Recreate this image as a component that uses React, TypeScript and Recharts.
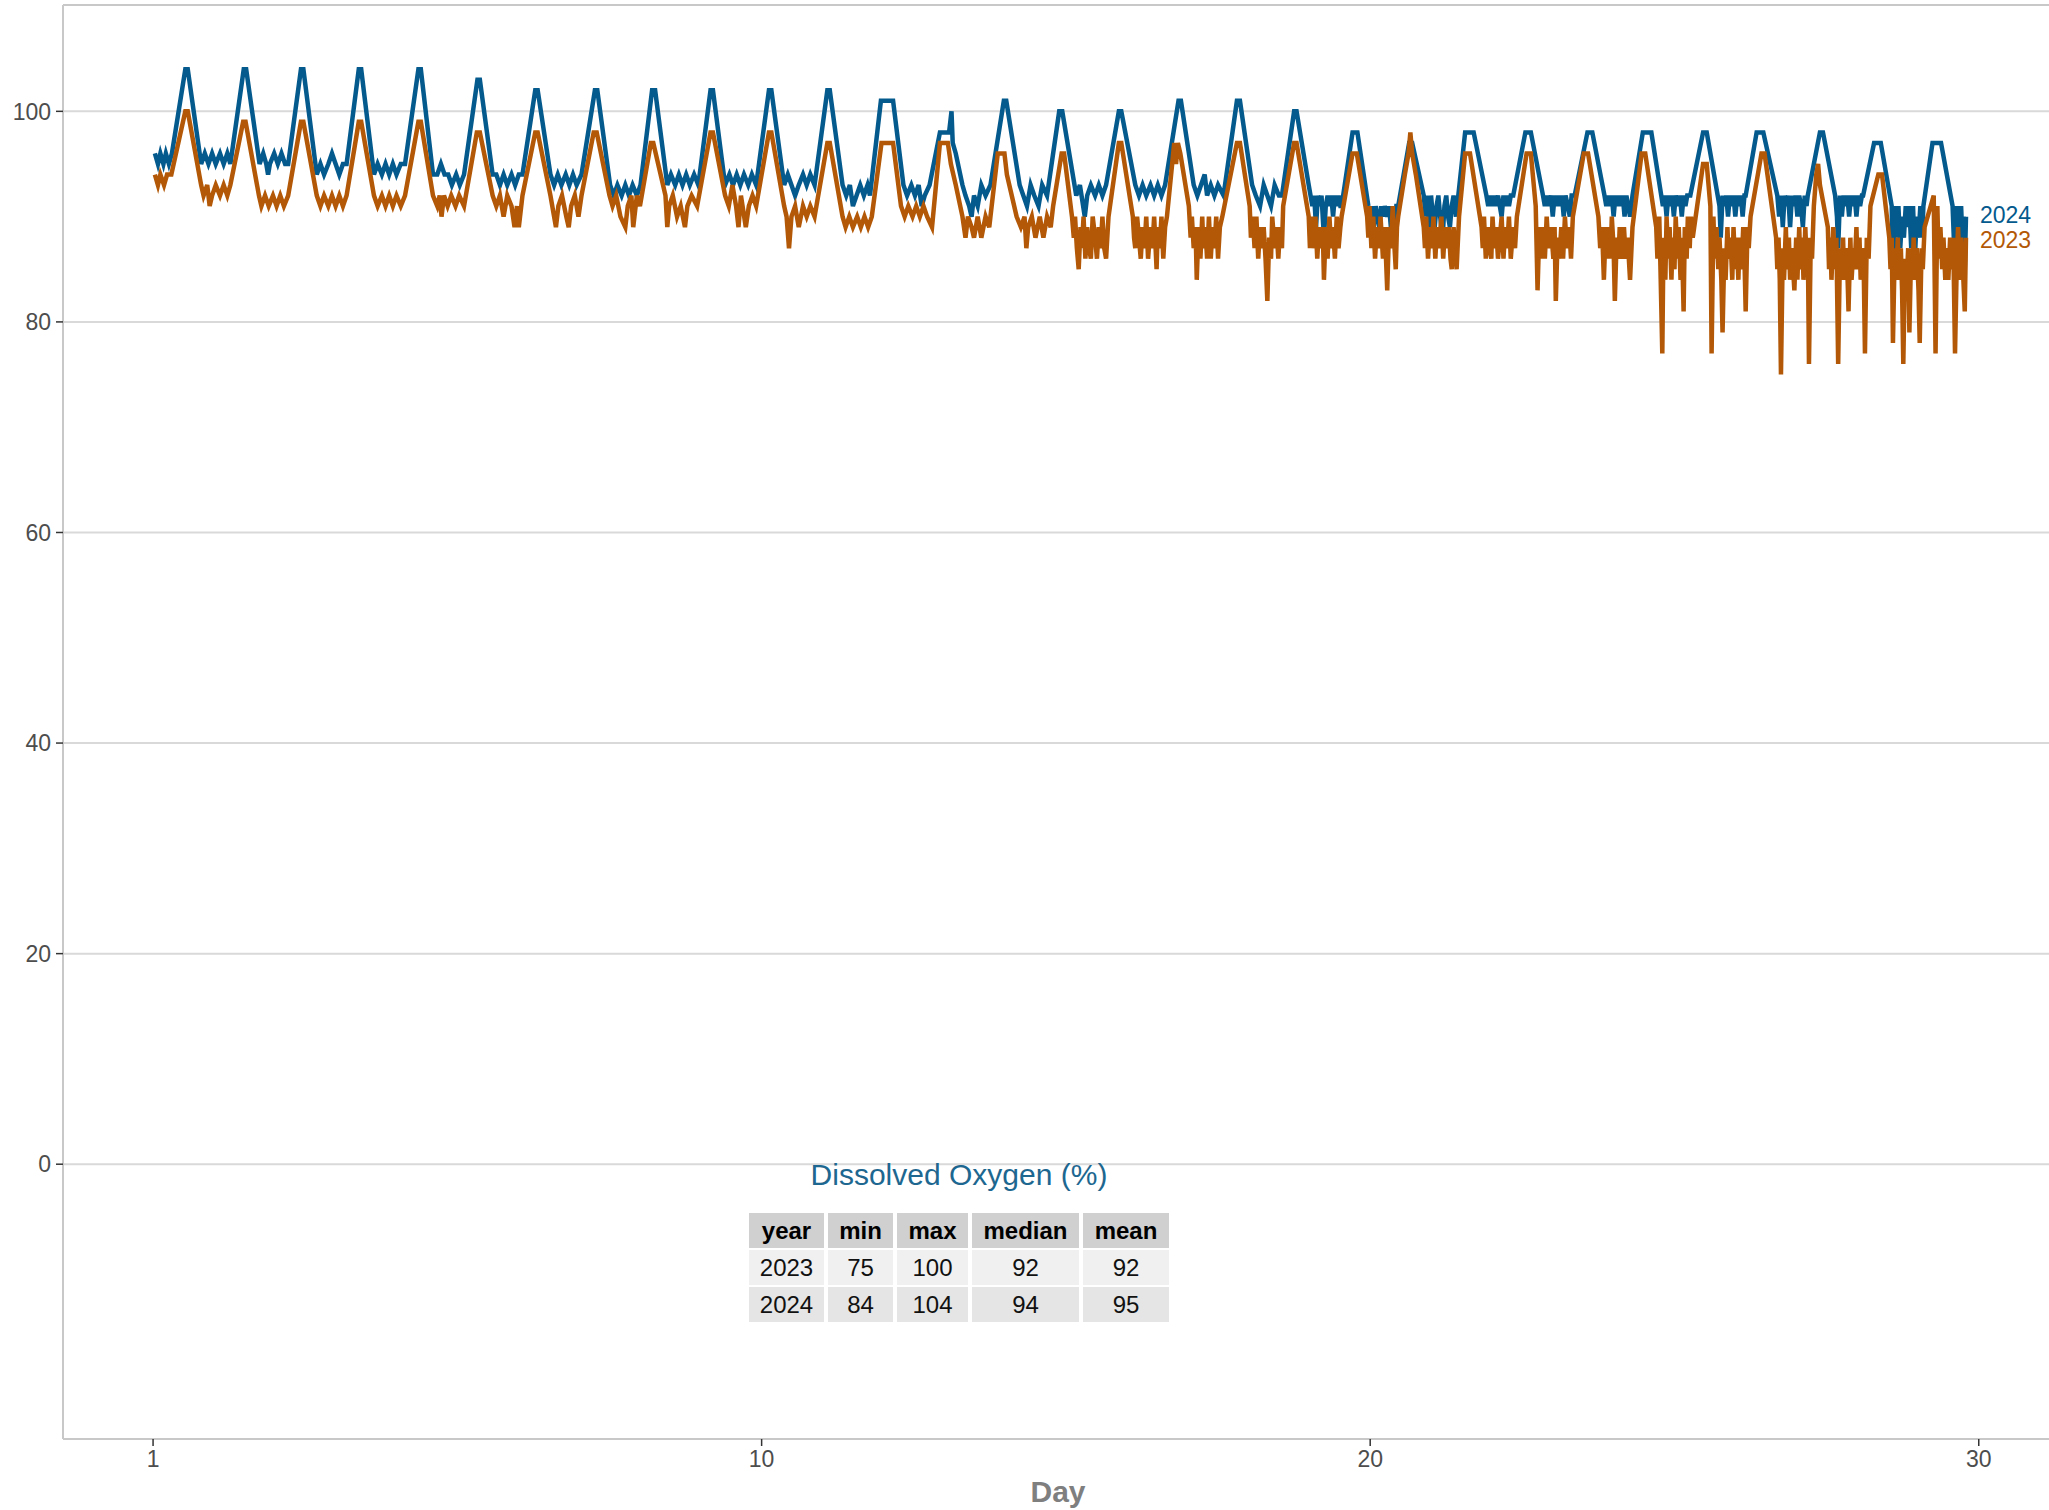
import { LineChart, Line, XAxis, YAxis, CartesianGrid, ReferenceLine } from 'recharts'

// [elapsed day, dissolved oxygen %]
const DO_2024: [number, number][] = [
  [0.03, 96], [0.08, 95], [0.12, 96], [0.17, 95], [0.21, 96], [0.26, 95], [0.31, 96],
  [0.53, 104], [0.57, 104], [0.79, 95],
  [0.85, 96], [0.91, 95], [0.97, 96], [1.03, 95], [1.10, 96], [1.16, 95], [1.22, 96], [1.27, 95],
  [1.49, 104], [1.53, 104], [1.75, 95],
  [1.81, 96], [1.86, 95], [1.89, 94], [1.92, 95], [1.99, 96], [2.05, 95], [2.11, 96], [2.17, 95], [2.22, 95],
  [2.43, 104], [2.47, 104], [2.69, 94],
  [2.75, 95], [2.81, 94], [2.88, 95], [2.94, 96], [3.00, 95], [3.06, 94], [3.12, 95], [3.18, 95],
  [3.38, 104], [3.42, 104], [3.63, 94],
  [3.69, 95], [3.76, 94], [3.82, 95], [3.88, 94], [3.94, 95], [4.00, 94], [4.07, 95], [4.14, 95],
  [4.36, 104], [4.40, 104], [4.60, 94],
  [4.67, 94], [4.73, 95], [4.79, 94], [4.85, 94], [4.91, 93], [4.98, 94], [5.04, 93], [5.11, 94],
  [5.33, 103], [5.37, 103], [5.58, 94],
  [5.64, 94], [5.70, 93], [5.76, 94], [5.82, 93], [5.89, 94], [5.95, 93], [6.01, 94], [6.07, 94],
  [6.28, 102], [6.32, 102], [6.53, 94],
  [6.59, 93], [6.65, 94], [6.71, 93], [6.78, 94], [6.84, 93], [6.90, 94], [6.96, 93], [7.04, 94],
  [7.26, 102], [7.30, 102], [7.51, 93],
  [7.57, 92], [7.63, 93], [7.70, 92], [7.76, 93], [7.82, 92], [7.88, 93], [7.95, 92], [8.01, 93],
  [8.20, 102], [8.25, 102], [8.45, 93],
  [8.51, 94], [8.58, 93], [8.64, 94], [8.70, 93], [8.76, 94], [8.82, 93], [8.89, 94], [8.96, 93],
  [9.16, 102], [9.20, 102], [9.40, 93],
  [9.47, 94], [9.53, 93], [9.59, 94], [9.65, 93], [9.71, 94], [9.78, 93], [9.84, 94], [9.91, 93],
  [10.12, 102], [10.16, 102], [10.37, 93],
  [10.43, 94], [10.49, 93], [10.55, 92], [10.61, 93], [10.68, 94], [10.74, 93], [10.80, 94], [10.87, 93],
  [11.08, 102], [11.12, 102], [11.33, 93],
  [11.39, 92], [11.45, 93], [11.50, 91], [11.56, 92], [11.62, 93], [11.68, 92], [11.74, 93], [11.78, 92],
  [11.96, 101], [12.16, 101], [12.33, 93],
  [12.39, 92], [12.46, 93], [12.52, 92], [12.58, 93], [12.63, 91], [12.68, 92], [12.76, 93],
  [12.93, 98], [13.08, 98], [13.12, 100], [13.14, 97], [13.19, 96], [13.30, 93],
  [13.35, 92], [13.41, 91], [13.45, 90], [13.49, 92], [13.55, 91], [13.61, 93], [13.68, 92], [13.76, 93],
  [13.98, 101], [14.02, 101], [14.24, 93],
  [14.30, 92], [14.36, 91], [14.42, 93], [14.48, 92], [14.55, 91], [14.61, 93], [14.69, 92],
  [14.89, 100], [14.94, 100], [15.17, 92],
  [15.23, 93], [15.31, 90], [15.35, 92], [15.41, 93], [15.48, 92], [15.54, 93], [15.60, 92], [15.66, 93],
  [15.87, 100], [15.91, 100], [16.14, 93],
  [16.20, 92], [16.26, 93], [16.32, 92], [16.39, 93], [16.45, 92], [16.51, 93], [16.57, 92], [16.63, 93],
  [16.85, 101], [16.89, 101], [17.10, 93],
  [17.16, 92], [17.22, 93], [17.28, 94], [17.32, 92], [17.38, 93], [17.44, 92], [17.50, 93], [17.59, 92],
  [17.81, 101], [17.86, 101], [18.06, 93],
  [18.12, 92], [18.19, 91], [18.25, 93], [18.31, 92], [18.37, 91], [18.43, 93], [18.50, 92], [18.55, 92],
  [18.75, 100], [18.79, 100], [18.99, 93],
  [19.02, 92], [19.05, 91], [19.08, 92], [19.11, 89], [19.14, 92], [19.17, 91], [19.20, 92], [19.24, 88], [19.27, 91],
  [19.30, 92], [19.33, 91], [19.36, 92], [19.39, 90], [19.42, 92], [19.45, 91], [19.48, 92], [19.51, 91], [19.53, 91],
  [19.71, 98], [19.79, 98], [19.97, 91],
  [20.00, 90], [20.03, 91], [20.06, 89], [20.09, 91], [20.12, 90], [20.15, 89], [20.18, 91], [20.21, 90],
  [20.24, 91], [20.28, 90], [20.31, 91], [20.34, 89], [20.37, 91], [20.40, 89], [20.43, 91], [20.46, 91],
  [20.64, 97], [20.69, 97], [20.88, 92],
  [20.91, 90], [20.94, 92], [20.97, 89], [21.00, 92], [21.03, 90], [21.06, 89], [21.09, 91], [21.12, 92], [21.15, 90],
  [21.19, 88], [21.22, 91], [21.25, 92], [21.28, 90], [21.31, 89], [21.34, 91], [21.37, 92], [21.41, 90],
  [21.56, 98], [21.70, 98], [21.91, 92],
  [21.94, 91], [21.97, 92], [22.00, 91], [22.03, 92], [22.06, 91], [22.10, 92], [22.13, 91],
  [22.16, 90], [22.19, 92], [22.22, 91], [22.25, 92], [22.28, 91], [22.31, 92], [22.35, 92],
  [22.55, 98], [22.64, 98], [22.84, 92],
  [22.87, 91], [22.90, 92], [22.93, 91], [22.97, 92], [23.00, 90], [23.03, 92], [23.06, 91], [23.09, 92],
  [23.12, 91], [23.15, 92], [23.18, 90], [23.21, 92], [23.25, 91], [23.28, 90], [23.31, 92], [23.36, 92],
  [23.57, 98], [23.65, 98], [23.85, 92],
  [23.88, 91], [23.91, 92], [23.94, 91], [23.97, 92], [24.00, 90], [24.03, 92], [24.06, 91], [24.09, 92],
  [24.12, 91], [24.15, 92], [24.18, 90], [24.21, 92], [24.24, 91], [24.27, 90], [24.31, 92],
  [24.48, 98], [24.62, 98], [24.81, 91],
  [24.84, 92], [24.87, 90], [24.90, 92], [24.93, 91], [24.96, 92], [24.99, 90], [25.02, 92],
  [25.06, 91], [25.09, 92], [25.12, 90], [25.15, 92], [25.18, 91], [25.21, 92], [25.26, 92],
  [25.47, 98], [25.53, 98], [25.74, 91],
  [25.76, 88], [25.79, 92], [25.82, 91], [25.85, 92], [25.88, 90], [25.91, 92], [25.94, 91], [25.97, 92],
  [26.00, 90], [26.03, 92], [26.06, 91], [26.09, 92], [26.12, 90], [26.15, 92], [26.17, 92],
  [26.35, 98], [26.46, 98], [26.69, 92],
  [26.72, 90], [26.75, 92], [26.78, 89], [26.81, 92], [26.84, 91], [26.87, 92], [26.90, 89], [26.93, 92],
  [26.96, 91], [26.99, 92], [27.02, 90], [27.05, 92], [27.08, 91], [27.11, 89], [27.14, 92], [27.17, 91], [27.19, 92],
  [27.39, 98], [27.44, 98], [27.64, 92],
  [27.67, 90], [27.69, 87], [27.72, 92], [27.75, 90], [27.78, 92], [27.81, 91], [27.84, 92], [27.87, 90],
  [27.90, 92], [27.93, 91], [27.96, 92], [27.99, 90], [28.02, 92], [28.05, 91], [28.08, 92], [28.10, 92],
  [28.28, 97], [28.39, 97], [28.57, 91],
  [28.59, 84], [28.62, 91], [28.65, 88], [28.68, 91], [28.71, 87], [28.74, 90], [28.77, 88], [28.80, 91], [28.83, 89],
  [28.86, 91], [28.89, 87], [28.92, 91], [28.95, 86], [28.98, 90], [29.01, 88], [29.04, 91], [29.07, 88], [29.09, 91],
  [29.24, 97], [29.38, 97], [29.57, 91],
  [29.59, 88], [29.61, 86], [29.63, 91], [29.65, 88], [29.67, 91], [29.69, 87], [29.71, 91], [29.73, 88], [29.75, 90], [29.77, 85], [29.79, 90],
]

const DO_2023: [number, number][] = [
  [0.03, 94], [0.08, 93], [0.12, 94], [0.18, 93], [0.23, 94], [0.30, 94],
  [0.53, 100], [0.57, 100], [0.79, 93],
  [0.83, 92], [0.89, 93], [0.93, 91], [0.97, 92], [1.03, 93], [1.10, 92], [1.16, 93], [1.22, 92], [1.27, 93],
  [1.48, 99], [1.52, 99], [1.74, 92],
  [1.78, 91], [1.84, 92], [1.90, 91], [1.97, 92], [2.03, 91], [2.09, 92], [2.15, 91], [2.22, 92],
  [2.43, 99], [2.47, 99], [2.69, 92],
  [2.75, 91], [2.81, 92], [2.88, 91], [2.94, 92], [3.00, 91], [3.06, 92], [3.12, 91], [3.18, 92],
  [3.38, 99], [3.42, 99], [3.63, 92],
  [3.69, 91], [3.76, 92], [3.82, 91], [3.88, 92], [3.94, 91], [4.00, 92], [4.07, 91], [4.14, 92],
  [4.36, 99], [4.40, 99], [4.60, 92],
  [4.67, 91], [4.71, 92], [4.74, 90], [4.78, 92], [4.84, 91], [4.90, 92], [4.97, 91], [5.03, 92], [5.11, 91],
  [5.32, 98], [5.37, 98], [5.58, 92],
  [5.64, 91], [5.70, 92], [5.76, 90], [5.82, 92], [5.89, 91], [5.94, 89], [5.98, 91], [6.01, 89], [6.07, 92],
  [6.28, 98], [6.32, 98], [6.53, 92],
  [6.59, 90], [6.62, 89], [6.66, 91], [6.72, 92], [6.79, 90], [6.83, 89], [6.87, 91], [6.93, 92], [6.99, 90], [7.04, 92],
  [7.24, 98], [7.29, 98], [7.50, 92],
  [7.55, 91], [7.61, 92], [7.68, 90], [7.76, 89], [7.80, 91], [7.86, 92], [7.89, 89], [7.95, 92], [8.00, 91],
  [8.18, 97], [8.22, 97], [8.42, 92],
  [8.45, 89], [8.48, 91], [8.54, 92], [8.61, 90], [8.67, 91], [8.74, 89], [8.78, 91], [8.85, 92], [8.94, 91],
  [9.16, 98], [9.20, 98], [9.40, 92],
  [9.46, 91], [9.52, 93], [9.58, 91], [9.62, 89], [9.66, 92], [9.74, 89], [9.79, 91], [9.85, 92], [9.91, 91],
  [10.12, 98], [10.16, 98], [10.37, 91],
  [10.41, 90], [10.45, 87], [10.49, 90], [10.55, 91], [10.61, 89], [10.68, 91], [10.74, 90], [10.80, 91], [10.87, 90],
  [11.08, 97], [11.12, 97], [11.33, 90],
  [11.38, 89], [11.44, 90], [11.50, 89], [11.57, 90], [11.63, 89], [11.69, 90], [11.75, 89], [11.81, 90],
  [11.97, 97], [12.16, 97], [12.29, 91],
  [12.35, 90], [12.41, 91], [12.48, 90], [12.54, 91], [12.60, 90], [12.66, 91], [12.72, 90], [12.80, 89],
  [12.93, 97], [13.06, 97], [13.11, 95], [13.19, 93], [13.30, 90],
  [13.35, 88], [13.39, 90], [13.45, 89], [13.49, 88], [13.55, 90], [13.61, 88], [13.68, 90], [13.74, 89], [13.76, 90],
  [13.88, 96], [13.99, 96], [14.03, 94], [14.19, 90],
  [14.26, 89], [14.32, 90], [14.35, 87], [14.38, 89], [14.44, 90], [14.50, 88], [14.57, 90], [14.63, 88], [14.69, 90], [14.75, 89], [14.79, 91],
  [14.93, 96], [14.97, 96], [15.10, 90],
  [15.13, 88], [15.15, 90], [15.18, 87], [15.21, 85], [15.24, 89], [15.26, 87], [15.29, 90], [15.32, 86], [15.35, 89], [15.38, 87],
  [15.41, 86], [15.44, 90], [15.48, 88], [15.51, 86], [15.54, 89], [15.57, 87], [15.60, 90], [15.63, 87], [15.66, 86], [15.70, 90],
  [15.87, 97], [15.91, 97], [16.10, 90],
  [16.12, 88], [16.14, 87], [16.17, 90], [16.20, 88], [16.23, 86], [16.26, 89], [16.29, 87], [16.32, 90], [16.35, 86], [16.39, 89],
  [16.42, 87], [16.45, 90], [16.49, 85], [16.51, 89], [16.54, 87], [16.57, 90], [16.60, 86], [16.63, 89], [16.66, 90],
  [16.78, 97], [16.81, 95], [16.84, 97], [16.88, 96], [17.02, 91],
  [17.05, 88], [17.07, 90], [17.10, 87], [17.13, 89], [17.15, 84], [17.18, 89], [17.21, 86], [17.24, 90], [17.26, 87], [17.29, 89],
  [17.32, 86], [17.35, 90], [17.38, 86], [17.41, 89], [17.44, 87], [17.47, 90], [17.50, 86], [17.53, 89], [17.57, 90],
  [17.81, 97], [17.86, 97], [18.02, 91],
  [18.04, 88], [18.07, 90], [18.10, 87], [18.13, 90], [18.16, 86], [18.19, 89], [18.22, 87], [18.25, 89], [18.28, 86], [18.31, 82],
  [18.34, 88], [18.37, 86], [18.39, 90], [18.43, 87], [18.46, 89], [18.49, 86], [18.52, 89], [18.55, 87], [18.57, 91],
  [18.75, 97], [18.79, 97], [18.99, 90],
  [19.01, 87], [19.03, 90], [19.06, 87], [19.10, 90], [19.13, 86], [19.16, 89], [19.19, 87], [19.22, 89], [19.24, 84], [19.27, 89],
  [19.30, 86], [19.33, 90], [19.36, 87], [19.39, 89], [19.42, 86], [19.45, 90], [19.48, 87], [19.51, 89], [19.53, 90],
  [19.71, 96], [19.78, 96], [19.95, 90],
  [19.97, 88], [19.99, 91], [20.02, 87], [20.05, 90], [20.08, 86], [20.11, 89], [20.14, 87], [20.17, 90], [20.21, 86],
  [20.24, 89], [20.28, 83], [20.31, 89], [20.34, 87], [20.37, 91], [20.40, 87], [20.42, 85], [20.44, 89], [20.46, 90],
  [20.57, 94], [20.63, 96], [20.66, 98], [20.69, 96], [20.75, 94], [20.88, 89],
  [20.90, 87], [20.92, 90], [20.95, 86], [20.98, 89], [21.01, 87], [21.04, 90], [21.07, 86], [21.10, 89], [21.13, 87], [21.17, 90],
  [21.20, 86], [21.23, 89], [21.26, 87], [21.29, 89], [21.32, 86], [21.34, 85], [21.37, 89], [21.40, 87], [21.42, 85], [21.46, 90],
  [21.56, 96], [21.64, 96], [21.83, 89],
  [21.85, 87], [21.87, 90], [21.90, 86], [21.93, 89], [21.96, 87], [21.99, 86], [22.01, 90], [22.04, 87], [22.07, 89], [22.10, 86],
  [22.13, 88], [22.16, 90], [22.19, 86], [22.22, 89], [22.25, 87], [22.28, 90], [22.31, 86], [22.35, 89], [22.38, 87], [22.41, 90],
  [22.57, 96], [22.64, 96], [22.72, 91],
  [22.75, 83], [22.78, 89], [22.81, 86], [22.84, 89], [22.87, 86], [22.90, 90], [22.93, 87], [22.97, 89], [23.01, 86], [23.03, 89],
  [23.05, 82], [23.08, 88], [23.11, 86], [23.14, 89], [23.17, 86], [23.20, 90], [23.23, 87], [23.27, 89], [23.30, 86], [23.33, 90],
  [23.51, 96], [23.58, 96], [23.75, 90],
  [23.78, 87], [23.81, 89], [23.84, 84], [23.87, 89], [23.90, 86], [23.92, 89], [23.95, 86], [23.97, 90], [24.00, 87], [24.02, 82],
  [24.05, 88], [24.08, 86], [24.10, 89], [24.13, 86], [24.17, 89], [24.20, 86], [24.23, 88], [24.25, 86], [24.27, 84], [24.31, 89],
  [24.46, 96], [24.52, 96], [24.70, 89],
  [24.72, 86], [24.75, 90], [24.77, 85], [24.80, 77], [24.82, 88], [24.85, 84], [24.87, 90], [24.90, 86], [24.92, 89], [24.95, 84],
  [24.97, 88], [25.00, 85], [25.02, 90], [25.05, 86], [25.07, 89], [25.10, 84], [25.12, 88], [25.15, 81], [25.17, 89], [25.20, 86],
  [25.22, 90], [25.25, 87], [25.27, 90], [25.30, 88],
  [25.47, 95], [25.53, 95],
  [25.59, 91], [25.61, 77], [25.64, 90], [25.66, 86], [25.69, 89], [25.72, 85], [25.74, 88], [25.77, 84], [25.79, 79], [25.82, 87],
  [25.84, 84], [25.87, 89], [25.89, 86], [25.92, 88], [25.95, 84], [25.97, 89], [26.00, 85], [26.02, 88], [26.05, 84], [26.07, 88],
  [26.10, 85], [26.13, 89], [26.15, 86], [26.17, 81], [26.20, 89], [26.22, 87], [26.25, 90], [26.28, 91],
  [26.43, 96], [26.48, 96], [26.67, 88],
  [26.69, 85], [26.71, 88], [26.73, 84], [26.75, 75], [26.78, 87], [26.80, 84], [26.83, 89], [26.85, 85], [26.88, 88], [26.90, 84],
  [26.93, 87], [26.95, 85], [26.97, 83], [27.00, 88], [27.02, 84], [27.05, 89], [27.07, 85], [27.10, 88], [27.12, 84], [27.15, 89],
  [27.17, 86], [27.19, 88], [27.21, 76], [27.24, 88], [27.26, 86], [27.29, 91],
  [27.33, 94], [27.36, 95], [27.39, 93], [27.52, 89],
  [27.54, 85], [27.56, 88], [27.58, 84], [27.61, 89], [27.64, 85], [27.66, 88], [27.69, 76], [27.72, 87], [27.74, 84], [27.77, 88],
  [27.79, 84], [27.82, 87], [27.84, 85], [27.86, 81], [27.89, 88], [27.91, 84], [27.94, 87], [27.96, 85], [27.99, 89], [28.01, 85],
  [28.04, 88], [28.06, 84], [28.09, 87], [28.11, 85], [28.13, 77], [28.16, 88], [28.19, 86], [28.22, 91],
  [28.35, 94], [28.41, 94], [28.53, 88],
  [28.55, 85], [28.57, 88], [28.59, 78], [28.62, 87], [28.64, 84], [28.67, 88], [28.69, 84], [28.72, 87], [28.74, 83], [28.76, 76],
  [28.79, 86], [28.81, 83], [28.84, 87], [28.86, 79], [28.89, 87], [28.91, 84], [28.93, 88], [28.96, 84], [28.98, 87], [29.01, 83],
  [29.03, 78], [29.06, 87], [29.08, 85], [29.11, 89],
  [29.26, 92],
  [29.29, 77], [29.32, 91], [29.34, 86], [29.37, 89], [29.40, 85], [29.42, 88], [29.45, 84], [29.48, 87], [29.50, 84], [29.53, 88],
  [29.55, 85], [29.58, 88], [29.61, 77], [29.64, 86], [29.66, 89], [29.69, 84], [29.71, 88], [29.74, 85], [29.77, 81], [29.79, 88],
]

// tick "1" marks the first day, placed at zero elapsed days
const X_TICKS = [0, 10, 20, 30]
const X_TICK_LABELS = ['1', '10', '20', '30']
const Y_TICKS = [0, 20, 40, 60, 80, 100]

const STAT_HEADERS = ['year', 'min', 'max', 'median', 'mean']
const STAT_ROWS = [
  ['2023', 75, 100, 92, 92],
  ['2024', 84, 104, 94, 95],
]

const BLUE = '#045a8d'
const ORANGE = '#b35806'
const FONT = '"Liberation Sans", Arial, sans-serif'

const toRows = (pts: [number, number][]) => pts.map(([day, v]) => ({ day, v }))
const rows2024 = toRows(DO_2024)
const rows2023 = toRows(DO_2023)

// direct label next to the last point of a series
const endLabel = (text: string, color: string, n: number, shift: number) => (p: any) => {
  if (p.index !== n - 1) return null
  return (
    <text key={text} x={p.x + 14} y={p.y + shift} dy="0.35em" fill={color} fontSize={23} fontFamily={FONT}>
      {text}
    </text>
  )
}

export default function App() {
  return (
    <div style={{ position: 'absolute', left: 0, top: 0, width: 2049, height: 1510, overflow: 'hidden', background: '#fff', fontFamily: FONT }}>
      <LineChart width={2060} height={1510} margin={{ top: 5, right: 7, bottom: 0, left: 0 }}>
        <CartesianGrid vertical={false} stroke="#d9d9d9" strokeWidth={2} />
        <XAxis
          type="number"
          dataKey="day"
          domain={[-1.48, 31.22]}
          allowDataOverflow
          ticks={X_TICKS}
          tickFormatter={(v: number) => X_TICK_LABELS[X_TICKS.indexOf(v)] ?? String(v)}
          height={71}
          axisLine={{ stroke: '#c8c8c8', strokeWidth: 2 }}
          tickLine={{ stroke: '#333', strokeWidth: 1.5 }}
          tickSize={7}
          tickMargin={5}
          tick={{ fontSize: 23, fill: '#4d4d4d', fontFamily: FONT }}
        />
        <YAxis
          type="number"
          domain={[-26.1, 110.1]}
          allowDataOverflow
          ticks={Y_TICKS}
          width={63}
          axisLine={{ stroke: '#c8c8c8', strokeWidth: 2 }}
          tickLine={{ stroke: '#333', strokeWidth: 1.5 }}
          tickSize={7}
          tickMargin={5}
          tick={{ fontSize: 23, fill: '#4d4d4d', fontFamily: FONT }}
        />
        <ReferenceLine y={110.1} stroke="#c8c8c8" strokeWidth={2} />
        <Line
          data={rows2024}
          dataKey="v"
          type="linear"
          stroke={BLUE}
          strokeWidth={4.5}
          dot={false}
          activeDot={false}
          isAnimationActive={false}
          label={endLabel('2024', BLUE, rows2024.length, -2)}
        />
        <Line
          data={rows2023}
          dataKey="v"
          type="linear"
          stroke={ORANGE}
          strokeWidth={4.5}
          dot={false}
          activeDot={false}
          isAnimationActive={false}
          label={endLabel('2023', ORANGE, rows2023.length, 2)}
        />
      </LineChart>

      <div style={{ position: 'absolute', left: 749, width: 420, top: 1160, lineHeight: '30px', fontSize: 30, color: '#1d6790', textAlign: 'center' }}>
        Dissolved Oxygen (%)
      </div>
      <div style={{ position: 'absolute', left: 749, top: 1213, display: 'grid', gridTemplateColumns: '75px 65px 71px 107px 86px', columnGap: 4, rowGap: 2 }}>
        {STAT_HEADERS.map(h => (
          <div key={h} style={{ height: 35, background: '#d0d0d0', fontWeight: 700, fontSize: 24, display: 'flex', alignItems: 'center', justifyContent: 'center', color: '#000' }}>{h}</div>
        ))}
        {STAT_ROWS.map((r, i) => r.map((c, j) => (
          <div key={`${i}-${j}`} style={{ height: 35, background: i === 0 ? '#f0f0f0' : '#e5e5e5', fontSize: 24, display: 'flex', alignItems: 'center', justifyContent: 'center', color: '#111' }}>{c}</div>
        )))}
      </div>

      <div style={{ position: 'absolute', left: 63, width: 1990, top: 1477, lineHeight: '30px', fontSize: 30, fontWeight: 700, color: '#7f7f7f', textAlign: 'center' }}>
        Day
      </div>
    </div>
  )
}
